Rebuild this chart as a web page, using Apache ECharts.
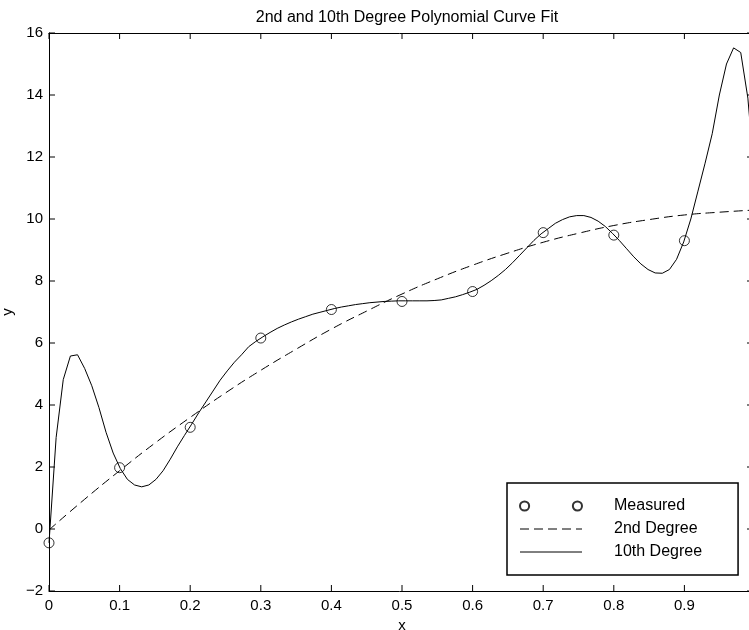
<!DOCTYPE html>
<html>
<head>
<meta charset="utf-8">
<script src="https://cdn.jsdelivr.net/npm/echarts@6/dist/echarts.min.js"></script>
<style>
  html, body { margin: 0; padding: 0; background: #fff; }
  #chart { width: 749px; height: 630px; }
</style>
</head>
<body>
<div id="chart"></div>
<script>
// measured data
let measuredX = [0, 0.1, 0.2, 0.3, 0.4, 0.5, 0.6, 0.7, 0.8, 0.9, 1.0]
let measuredY = [-0.447, 1.978, 3.28, 6.16, 7.08, 7.34, 7.66, 9.56, 9.48, 9.30, 11.2]

// 2nd degree fit
let fit2X = [0, 0.05, 0.1, 0.15, 0.2, 0.25, 0.3, 0.35, 0.4, 0.45, 0.5,
    0.55, 0.6, 0.65, 0.7, 0.75, 0.8, 0.85, 0.9, 0.95, 1.0]
let fit2Y = [-0.03, 0.95, 1.88, 2.77, 3.60, 4.39, 5.12, 5.80, 6.45, 7.03, 7.58,
    8.07, 8.51, 8.90, 9.25, 9.54, 9.79, 9.98, 10.13, 10.22, 10.29]

// 10th degree fit
let fit10X = [
    0, 0.0101, 0.0202, 0.0303, 0.0404, 0.0505, 0.0606, 0.0707, 0.0808, 0.0909,
    0.1010, 0.1111, 0.1212, 0.1313, 0.1414, 0.1515, 0.1616, 0.1717, 0.1818, 0.1919,
    0.2020, 0.2121, 0.2222, 0.2323, 0.2424, 0.2525, 0.2626, 0.2727, 0.2828, 0.2929,
    0.3030, 0.3131, 0.3232, 0.3333, 0.3434, 0.3535, 0.3636, 0.3737, 0.3838, 0.3939,
    0.4040, 0.4141, 0.4242, 0.4343, 0.4444, 0.4545, 0.4646, 0.4747, 0.4848, 0.4949,
    0.5051, 0.5152, 0.5253, 0.5354, 0.5455, 0.5556, 0.5657, 0.5758, 0.5859, 0.5960,
    0.6061, 0.6162, 0.6263, 0.6364, 0.6465, 0.6566, 0.6667, 0.6768, 0.6869, 0.6970,
    0.7071, 0.7172, 0.7273, 0.7374, 0.7475, 0.7576, 0.7677, 0.7778, 0.7879, 0.7980,
    0.8081, 0.8182, 0.8283, 0.8384, 0.8485, 0.8586, 0.8687, 0.8788, 0.8889, 0.8990,
    0.9091, 0.9192, 0.9293, 0.9394, 0.9495, 0.9596, 0.9697, 0.9798, 0.9899, 1.0
]
let fit10Y = [
    -0.447, 2.95, 4.82, 5.58, 5.62, 5.18, 4.62, 3.92, 3.12, 2.45,
    1.95, 1.60, 1.42, 1.36, 1.42, 1.60, 1.88, 2.25, 2.65, 3.02,
    3.38, 3.75, 4.10, 4.45, 4.80, 5.10, 5.38, 5.62, 5.88, 6.05,
    6.20, 6.34, 6.47, 6.58, 6.68, 6.77, 6.85, 6.93, 6.99, 7.05,
    7.11, 7.16, 7.20, 7.24, 7.27, 7.30, 7.32, 7.34, 7.35, 7.36,
    7.36, 7.36, 7.36, 7.36, 7.37, 7.39, 7.44, 7.49, 7.56, 7.64,
    7.73, 7.86, 8.01, 8.18, 8.37, 8.59, 8.83, 9.07, 9.31, 9.52,
    9.69, 9.86, 9.98, 10.07, 10.11, 10.11, 10.05, 9.93, 9.76, 9.54,
    9.30, 9.04, 8.78, 8.55, 8.37, 8.26, 8.25, 8.37, 8.70, 9.26,
    10.00, 10.90, 11.80, 12.75, 14.00, 15.00, 15.52, 15.37, 13.90, 11.20
]

// tick values for the box around the plot
let xTicks = [0, 0.1, 0.2, 0.3, 0.4, 0.5, 0.6, 0.7, 0.8, 0.9, 1.0]
let yTicks = [-2, 0, 2, 4, 6, 8, 10, 12, 14, 16]

function zip(xs, ys) {
    return xs.map(function (x, i) { return [x, ys[i]] })
}

let font = '"Liberation Sans", Arial, Helvetica, sans-serif'

// two open circles for the "Measured" legend entry
let twoCircles = 'path://M0.5,5a4.5,4.5 0 1,0 9,0a4.5,4.5 0 1,0 -9,0M52.5,5a4.5,4.5 0 1,0 9,0a4.5,4.5 0 1,0 -9,0'
// hide the marker that echarts puts in the middle of a line legend icon
let noMarker = { color: 'rgba(0,0,0,0)', borderColor: 'rgba(0,0,0,0)', borderWidth: 0 }

function axisBase() {
    return {
        type: 'value',
        axisLine: { show: true, onZero: false, lineStyle: { color: '#000', width: 1 } },
        axisTick: { show: false },
        splitLine: { show: false }
    }
}

function yLabel(v) {
    return v < 0 ? '\u2212' + Math.abs(v) : String(v)
}

// inward ticks on all four sides, placed through the axes' own scales
function renderTicks(params, api) {
    let children = []
    let xLo = xTicks[0], xHi = xTicks[xTicks.length - 1]
    let yLo = yTicks[0], yHi = yTicks[yTicks.length - 1]
    let tickStyle = { stroke: '#000', lineWidth: 1 }
    xTicks.forEach(function (v) {
        let b = api.coord([v, yLo])
        let t = api.coord([v, yHi])
        children.push({ type: 'line', shape: { x1: b[0], y1: b[1], x2: b[0], y2: b[1] - 6 }, style: tickStyle })
        children.push({ type: 'line', shape: { x1: t[0], y1: t[1], x2: t[0], y2: t[1] + 6 }, style: tickStyle })
    })
    yTicks.forEach(function (v) {
        let l = api.coord([xLo, v])
        let r = api.coord([xHi, v])
        children.push({ type: 'line', shape: { x1: l[0], y1: l[1], x2: l[0] + 6, y2: l[1] }, style: tickStyle })
        children.push({ type: 'line', shape: { x1: r[0], y1: r[1], x2: r[0] - 8, y2: r[1] }, style: tickStyle })
    })
    return { type: 'group', children: children }
}

let chart = echarts.init(document.getElementById('chart'))
let option = {
    backgroundColor: '#fff',
    animation: false,
    textStyle: { fontFamily: font },
    title: {
        text: '2nd and 10th Degree Polynomial Curve Fit',
        left: 402,
        top: 5,
        textAlign: 'center',
        textStyle: { color: '#000', fontWeight: 'normal', fontSize: 16, fontFamily: font }
    },
    grid: { left: 49, right: -6, top: 33, bottom: 39, outerBoundsMode: 'none' },
    xAxis: [
        Object.assign(axisBase(), {
            position: 'bottom',
            min: 0, max: 1, interval: 0.1,
            name: 'x', nameLocation: 'middle', nameGap: 21,
            nameTextStyle: { color: '#000', fontSize: 15, fontFamily: font },
            axisLabel: { color: '#000', fontSize: 15, margin: 7, fontFamily: font }
        }),
        Object.assign(axisBase(), {
            position: 'top', min: 0, max: 1, interval: 0.1,
            axisLabel: { show: false }
        })
    ],
    yAxis: [
        Object.assign(axisBase(), {
            position: 'left',
            min: -2, max: 16, interval: 2,
            name: 'y', nameLocation: 'middle', nameGap: 26,
            nameTextStyle: { color: '#000', fontSize: 15, fontFamily: font },
            axisLabel: { color: '#000', fontSize: 15, margin: 6, fontFamily: font, formatter: yLabel }
        }),
        Object.assign(axisBase(), {
            position: 'right', min: -2, max: 16, interval: 2,
            axisLabel: { show: false }
        })
    ],
    legend: {
        orient: 'vertical',
        left: 507,
        top: 483,
        padding: [15, 36, 15, 12],
        itemGap: 7,
        itemWidth: 62,
        itemHeight: 10,
        backgroundColor: '#fff',
        borderColor: '#000',
        borderWidth: 1.5,
        borderRadius: 0,
        selectedMode: false,
        textStyle: { color: '#000', fontSize: 16, fontFamily: font, padding: [0, 0, 0, 27] },
        data: [
            { name: 'Measured', icon: twoCircles },
            { name: '2nd Degree', itemStyle: noMarker, lineStyle: { width: 1 } },
            { name: '10th Degree', itemStyle: noMarker, lineStyle: { width: 1 } }
        ]
    },
    series: [
        {
            name: 'Measured',
            type: 'scatter',
            xAxisIndex: 0, yAxisIndex: 0,
            symbol: 'circle',
            symbolSize: 10,
            itemStyle: { color: 'rgba(0,0,0,0)', borderColor: '#000', borderWidth: 1 },
            data: zip(measuredX, measuredY),
            z: 3
        },
        {
            name: '2nd Degree',
            type: 'line',
            xAxisIndex: 0, yAxisIndex: 0,
            smooth: true,
            symbol: 'none',
            lineStyle: { color: '#000', width: 1, type: [9, 5] },
            itemStyle: { color: '#000' },
            data: zip(fit2X, fit2Y)
        },
        {
            name: '10th Degree',
            type: 'line',
            xAxisIndex: 0, yAxisIndex: 0,
            smooth: false,
            symbol: 'none',
            lineStyle: { color: '#000', width: 1 },
            itemStyle: { color: '#000' },
            data: zip(fit10X, fit10Y)
        },
        {
            name: 'ticks',
            type: 'custom',
            xAxisIndex: 0, yAxisIndex: 0,
            silent: true,
            z: 1,
            renderItem: renderTicks,
            data: [[0, 0]]
        }
    ]
}
chart.setOption(option)
</script>
</body>
</html>
